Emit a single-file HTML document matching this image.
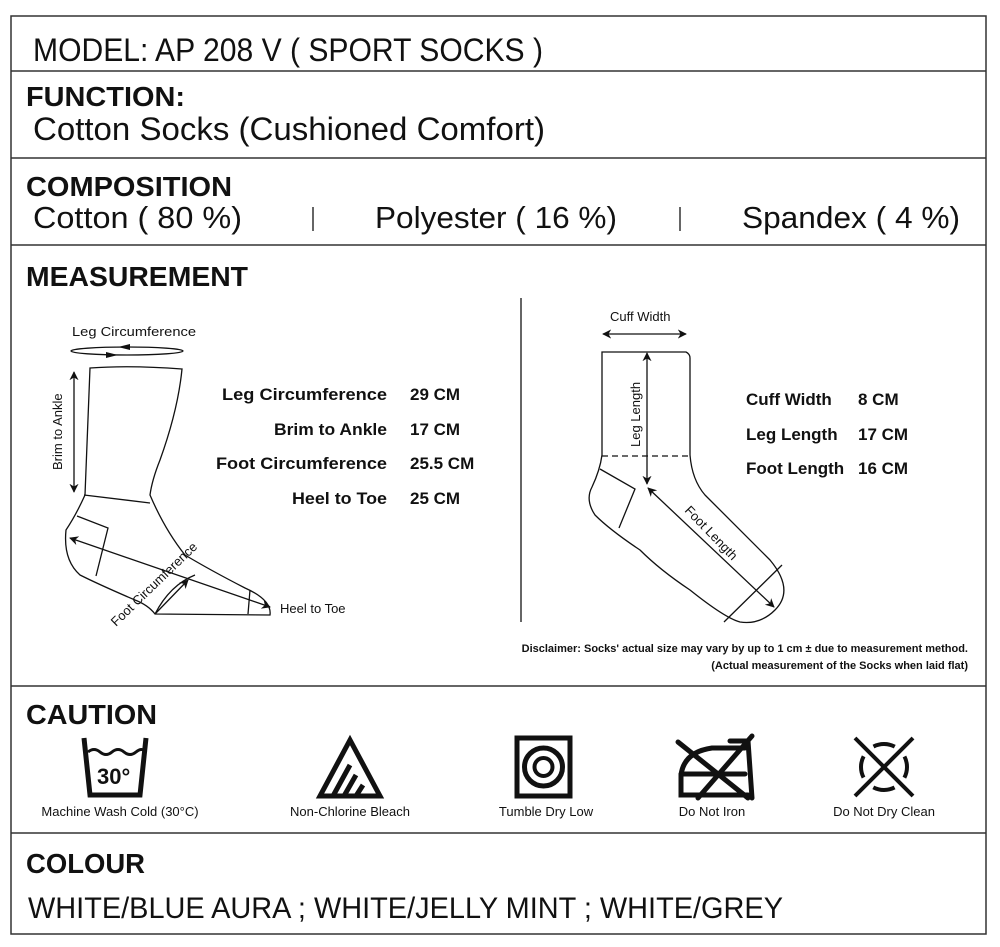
<!DOCTYPE html>
<html><head><meta charset="utf-8"><style>
html,body{margin:0;padding:0;background:#fff;width:1000px;height:947px;overflow:hidden}
svg{display:block}
text{font-family:"Liberation Sans",sans-serif;fill:#111}
</style></head><body>
<svg width="1000" height="947" viewBox="0 0 1000 947" xmlns="http://www.w3.org/2000/svg">
<defs>
<marker id="ah" viewBox="0 0 10 10" refX="9" refY="5" markerWidth="7" markerHeight="7" orient="auto-start-reverse"><path d="M0,0 L10,5 L0,10 L3,5 z" fill="#111"/></marker>
</defs>
<g stroke="#333" stroke-width="1.5" fill="none">
<rect x="11" y="16" width="975" height="918"/>
<line x1="11" y1="71" x2="986" y2="71"/>
<line x1="11" y1="158" x2="986" y2="158"/>
<line x1="11" y1="245" x2="986" y2="245"/>
<line x1="11" y1="686" x2="986" y2="686"/>
<line x1="11" y1="833" x2="986" y2="833"/>
</g>
<text x="33" y="61" font-size="32" textLength="510" lengthAdjust="spacingAndGlyphs">MODEL: AP 208 V  ( SPORT SOCKS )</text>
<text x="26" y="106" font-size="28" font-weight="bold" textLength="159" lengthAdjust="spacingAndGlyphs">FUNCTION:</text>
<text x="33" y="140" font-size="32" textLength="512" lengthAdjust="spacingAndGlyphs">Cotton Socks (Cushioned Comfort)</text>
<text x="26" y="196" font-size="28" font-weight="bold" textLength="206" lengthAdjust="spacingAndGlyphs">COMPOSITION</text>
<text x="33" y="228" font-size="31" textLength="209" lengthAdjust="spacingAndGlyphs">Cotton ( 80 %)</text>
<text x="375" y="228" font-size="31" textLength="242" lengthAdjust="spacingAndGlyphs">Polyester ( 16 %)</text>
<text x="742" y="228" font-size="31" textLength="218" lengthAdjust="spacingAndGlyphs">Spandex ( 4 %)</text>
<line x1="313" y1="207" x2="313" y2="231" stroke="#333" stroke-width="1.5"/>
<line x1="680" y1="207" x2="680" y2="231" stroke="#333" stroke-width="1.5"/>
<text x="26" y="286" font-size="28" font-weight="bold" textLength="222" lengthAdjust="spacingAndGlyphs">MEASUREMENT</text>

<!-- left sock -->
<g stroke="#111" stroke-width="1.3" fill="none">
<path d="M90,368 Q130,365 182,369 Q178,410 160,460 Q152,480 150,495 Q165,530 185,555 Q210,570 245,588 Q272,600 270,615 L155,614 Q148,605 135,600 Q100,585 80,575 Q63,560 66,530 Q76,515 85,495 L90,368 Z"/>
<path d="M84,495 L150,503"/>
<path d="M77,516 L108,528 L96,576"/>
<path d="M250,590 L248,614"/>
<ellipse cx="127" cy="351" rx="56" ry="4"/>
<path d="M155,614 Q170,585 195,575"/>
<line x1="74" y1="372" x2="74" y2="492" marker-start="url(#ah)" marker-end="url(#ah)"/>
<line x1="70" y1="538" x2="270" y2="607" marker-start="url(#ah)" marker-end="url(#ah)"/>
<line x1="155" y1="614" x2="188" y2="580" marker-end="url(#ah)"/>
</g>
<path d="M118,347 l12,-3 l0,6z M118,355 l-12,-3 l0,6z" fill="#111"/>
<text x="72" y="336" font-size="13" textLength="124" lengthAdjust="spacingAndGlyphs">Leg Circumference</text>
<text x="280" y="613" font-size="13">Heel to Toe</text>
<text font-size="13" transform="translate(62,470) rotate(-90)">Brim to Ankle</text>
<text font-size="13" transform="translate(116,627) rotate(-44)">Foot Circumference</text>

<g font-size="17" font-weight="bold" text-anchor="end">
<text x="387" y="400" textLength="165" lengthAdjust="spacingAndGlyphs">Leg Circumference</text>
<text x="387" y="435" textLength="113" lengthAdjust="spacingAndGlyphs">Brim to Ankle</text>
<text x="387" y="469" textLength="171" lengthAdjust="spacingAndGlyphs">Foot Circumference</text>
<text x="387" y="504" textLength="95" lengthAdjust="spacingAndGlyphs">Heel to Toe</text>
</g>
<g font-size="17" font-weight="bold">
<text x="410" y="400">29 CM</text>
<text x="410" y="435">17 CM</text>
<text x="410" y="469">25.5 CM</text>
<text x="410" y="504">25 CM</text>
</g>
<line x1="521" y1="298" x2="521" y2="622" stroke="#333" stroke-width="1.5"/>

<!-- right sock -->
<g stroke="#111" stroke-width="1.3" fill="none">
<path d="M602,352 L686,352 Q690,354 690,358 L690,455 Q692,480 705,495 L770,560 Q795,590 775,610 Q760,625 740,622 Q725,618 690,590 Q660,570 640,550 Q610,530 595,515 Q585,500 592,487 Q600,470 602,455 Z"/>
<line x1="602" y1="456" x2="690" y2="456" stroke-dasharray="6,4"/>
<path d="M600,469 L635,489 L619,528"/>
<path d="M782,565 L724,622"/>
<line x1="603" y1="334" x2="686" y2="334" marker-start="url(#ah)" marker-end="url(#ah)"/>
<line x1="647" y1="353" x2="647" y2="484" marker-start="url(#ah)" marker-end="url(#ah)"/>
<line x1="648" y1="488" x2="774" y2="607" marker-start="url(#ah)" marker-end="url(#ah)"/>
</g>
<text x="610" y="321" font-size="13">Cuff Width</text>
<text font-size="13" transform="translate(640,447) rotate(-90)">Leg Length</text>
<text font-size="13" transform="translate(684,511) rotate(46)">Foot Length</text>
<g font-size="17" font-weight="bold">
<text x="746" y="405">Cuff Width</text>
<text x="746" y="440">Leg Length</text>
<text x="746" y="474">Foot Length</text>
<text x="858" y="405">8 CM</text>
<text x="858" y="440">17 CM</text>
<text x="858" y="474">16 CM</text>
</g>
<g font-size="11" font-weight="bold" text-anchor="end">
<text x="968" y="652">Disclaimer: Socks' actual size may vary by up to 1 cm ± due to measurement method.</text>
<text x="968" y="669">(Actual measurement of the Socks when laid flat)</text>
</g>

<text x="26" y="724" font-size="28" font-weight="bold" textLength="131" lengthAdjust="spacingAndGlyphs">CAUTION</text>
<!-- wash -->
<path d="M84,738 L90,795 L140,795 L146,738" stroke="#111" stroke-width="5" fill="none"/>
<path d="M88,752 q6,-5 12,0 t12,0 t12,0 t12,0 t10,0" stroke="#111" stroke-width="3" fill="none"/>
<text x="97" y="784" font-size="22" font-weight="bold">30°</text>
<!-- bleach -->
<path d="M350,740 L320,796 L380,796 Z M350,765 L333,796 M356,775 L344,796 M363,785 L356,796" stroke="#111" stroke-width="5" fill="none"/>
<!-- tumble -->
<rect x="517" y="738" width="53" height="58" stroke="#111" stroke-width="5" fill="none"/>
<circle cx="543.5" cy="767" r="19" stroke="#111" stroke-width="5" fill="none"/>
<circle cx="543.5" cy="767" r="9" stroke="#111" stroke-width="4" fill="none"/>
<!-- iron -->
<g stroke="#111" stroke-width="5" fill="none" stroke-linecap="round">
<path d="M681,785 L681,775 Q684,752 712,748 L745,748"/>
<path d="M681,774 L745,774"/>
<path d="M730,741 L748,741 L752,798"/>
<path d="M681,785 L681,795 L748,795"/>
<line x1="678" y1="742" x2="748" y2="798"/>
<line x1="752" y1="736" x2="698" y2="798"/>
</g>
<!-- dry clean -->
<g stroke="#111" stroke-width="4" fill="none">
<circle cx="884" cy="767" r="23" stroke-dasharray="22.1 14" stroke-dashoffset="11"/>
<line x1="855" y1="738" x2="913" y2="796"/>
<line x1="913" y1="738" x2="855" y2="796"/>
</g>
<g font-size="13" text-anchor="middle">
<text x="120" y="816">Machine Wash Cold (30°C)</text>
<text x="350" y="816">Non-Chlorine Bleach</text>
<text x="546" y="816">Tumble Dry Low</text>
<text x="712" y="816">Do Not Iron</text>
<text x="884" y="816">Do Not Dry Clean</text>
</g>

<text x="26" y="873" font-size="28" font-weight="bold" textLength="119" lengthAdjust="spacingAndGlyphs">COLOUR</text>
<text x="28" y="918" font-size="30" textLength="755" lengthAdjust="spacingAndGlyphs">WHITE/BLUE AURA  ;  WHITE/JELLY MINT  ;  WHITE/GREY</text>
</svg>
</body></html>
